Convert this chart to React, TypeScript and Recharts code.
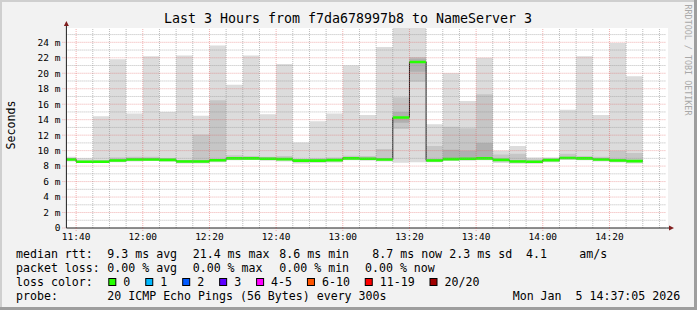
import React from 'react';
import { ComposedChart, Area, Line, XAxis, YAxis, ReferenceLine } from 'recharts';

// ---- data (milliseconds shown as "m" = milli-seconds) ----
const TITLE = 'Last 3 Hours from f7da678997b8 to NameServer 3';
const Y_LABEL = 'Seconds';
const WATERMARK = 'RRDTOOL / TOBI OETIKER';

const START_TIME = '11:37:05';
const END_TIME = '14:37:05';

// interval start times (5-minute steps); last entry closes the final step
const TIME_LABELS = [
  '11:35', '11:40', '11:45', '11:50', '11:55', '12:00', '12:05', '12:10', '12:15', '12:20',
  '12:25', '12:30', '12:35', '12:40', '12:45', '12:50', '12:55', '13:00', '13:05', '13:10',
  '13:15', '13:20', '13:25', '13:30', '13:35', '13:40', '13:45', '13:50', '13:55', '14:00',
  '14:05', '14:10', '14:15', '14:20', '14:25', '14:30',
];

const MEDIAN = [8.86, 8.56, 8.56, 8.73, 8.86, 8.86, 8.8, 8.6, 8.6, 8.75, 9.0, 9.0, 8.95, 8.9, 8.7, 8.7, 8.77, 9.0, 8.95, 8.86, 14.28, 21.46, 8.73, 8.9, 8.95, 9.0, 8.8, 8.6, 8.56, 8.77, 9.05, 9.0, 8.86, 8.73, 8.65];
const SMOKE_MIN = [8.6, 8.4, 8.4, 8.5, 8.6, 8.65, 8.55, 8.35, 8.35, 8.5, 8.75, 8.8, 8.7, 8.6, 8.35, 8.4, 8.45, 8.75, 8.7, 8.6, 8.43, 8.5, 8.5, 8.65, 8.7, 8.75, 8.4, 8.3, 8.3, 8.5, 8.8, 8.75, 8.6, 8.45, 8.35];
const SMOKE_MAX = [9.2, 9.0, 14.45, 21.8, 14.8, 22.2, 15.0, 22.3, 14.5, 23.6, 18.5, 22.3, 14.7, 21.2, 11.05, 13.8, 14.8, 21.0, 14.6, 23.4, 27.5, 28.0, 13.4, 20.0, 16.4, 22.0, 10.0, 10.6, 9.1, 9.1, 15.3, 22.2, 14.6, 23.9, 19.6];
const MID_LO = [8.75, 8.5, 8.5, 8.6, 8.7, 8.75, 8.65, 8.5, 8.45, 8.6, 8.9, 8.9, 8.85, 8.75, 8.5, 8.55, 8.6, 8.9, 8.85, 8.75, 12.8, 18.9, 8.6, 8.75, 8.8, 8.85, 8.6, 8.5, 8.4, 8.6, 8.9, 8.85, 8.75, 8.6, 8.5];
const MID_HI = [9.0, 8.7, 8.8, 9.1, 9.2, 9.2, 9.05, 8.8, 12.1, 16.5, 9.4, 9.3, 9.2, 9.3, 8.9, 9.0, 9.1, 9.35, 9.3, 10.2, 16.9, 22.1, 10.6, 13.1, 12.9, 17.3, 9.5, 9.6, 8.9, 9.0, 9.6, 9.3, 9.2, 10.0, 9.7];
const CORE_LO = [8.76, 8.46, 8.46, 8.63, 8.76, 8.76, 8.7, 8.5, 8.5, 8.65, 8.9, 8.9, 8.85, 8.8, 8.6, 8.6, 8.67, 8.9, 8.85, 8.76, 13.6, 20.2, 8.63, 8.8, 8.85, 8.9, 8.7, 8.5, 8.46, 8.67, 8.95, 8.9, 8.76, 8.63, 8.55];
const CORE_HI = [9.0, 8.7, 8.7, 8.88, 9.0, 9.0, 8.95, 8.75, 8.75, 8.9, 9.15, 9.15, 9.1, 9.05, 8.85, 8.85, 8.92, 9.15, 9.1, 9.0, 15.0, 21.9, 8.88, 10.1, 10.0, 11.0, 8.95, 8.75, 8.7, 8.92, 9.2, 9.15, 9.0, 8.88, 8.8];

const X_TICKS = ['11:40', '12:00', '12:20', '12:40', '13:00', '13:20', '13:40', '14:00', '14:20'];
const Y_TICKS = [0, 2, 4, 6, 8, 10, 12, 14, 16, 18, 20, 22, 24];
const Y_MAX = 25.85;

const RTT_STATS = ['9.3 ms avg', '21.4 ms max', '8.6 ms min', '8.7 ms now', '2.3 ms sd', '4.1', 'am/s'];
const LOSS_STATS = ['0.00 % avg', '0.00 % max', '0.00 % min', '0.00 % now'];
const LOSS_LABELS = ['0', '1', '2', '3', '4-5', '6-10', '11-19', '20/20'];
const LOSS_COLORS = ['#26ff00', '#00b8ff', '#0059ff', '#5e00ff', '#ff00ff', '#ff5500', '#ff0000', '#a10000'];
const PROBE_TEXT = '20 ICMP Echo Pings (56 Bytes) every 300s';
const DATE_TEXT = 'Mon Jan  5 14:37:05 2026';

// ---- helpers ----
const toMin = (s: string) => {
  const p = s.split(':').map(Number);
  return p[0] * 60 + p[1] + (p[2] || 0) / 60;
};
const fmtTime = (m: number) => {
  const h = Math.floor(m / 60);
  const mm = Math.round(m - h * 60);
  return `${h}:${mm < 10 ? '0' : ''}${mm}`;
};

const BAND_HALF = 0.17; // half thickness of the loss-colour median band

const data = TIME_LABELS.map((t, i) => {
  const j = Math.min(i, MEDIAN.length - 1);
  return {
    t: toMin(t),
    outer: [SMOKE_MIN[j], SMOKE_MAX[j]],
    mid: [MID_LO[j], MID_HI[j]],
    core: [CORE_LO[j], CORE_HI[j]],
    median: MEDIAN[j],
    band: [MEDIAN[j] - BAND_HALF, MEDIAN[j] + BAND_HALF],
  };
});

const X0 = toMin(START_TIME);
const X1 = toMin(END_TIME);
const majorX = X_TICKS.map(toMin);
const minorX: number[] = [];
for (let m = toMin('11:40'); m < X1; m += 5) if (!majorX.includes(m)) minorX.push(m);
const majorY = Y_TICKS.filter((v) => v > 0);
const minorY: number[] = [];
for (let v = 1; v < Y_MAX; v += 2) minorY.push(v);

const FONT = '"DejaVu Sans Mono", monospace';
const MGRID = 'rgba(222,79,79,0.45)';
const GRID = 'rgba(143,143,143,0.6)';

// layout
const PLOT_LEFT = 66.4;
const PLOT_TOP = 28;
const PLOT_W = 600;
const PLOT_H = 200;
const W = 697;
const H = 310;
const CHAR_W = 6.95;

export default function App() {
  const legendFont = 11.6;
  const rttX = [107.3, 192.7, 279.3, 372.3, 449.3, 526, 579.3];
  const lossX = [107.3, 192.7, 279.3, 365];
  const boxX: number[] = [];
  let bx = 108.3;
  LOSS_LABELS.forEach((l) => {
    boxX.push(bx);
    bx += 30 + CHAR_W * l.length;
  });

  return (
    <div style={{ position: 'absolute', left: 0, top: 0, width: W, height: H, background: '#f2f2f2', overflow: 'hidden' }}>
      <div style={{ position: 'absolute', left: PLOT_LEFT, top: PLOT_TOP, width: PLOT_W + 1.6, height: PLOT_H, background: '#ffffff' }} />
      <div style={{ position: 'absolute', left: 0, top: 0 }}>
        <ComposedChart
          width={W}
          height={H}
          data={data}
          margin={{ top: PLOT_TOP, right: W - PLOT_LEFT - PLOT_W, bottom: H - PLOT_TOP - PLOT_H - 30, left: PLOT_LEFT - 60 }}
        >
          <XAxis
            dataKey="t"
            type="number"
            domain={[X0, X1]}
            allowDataOverflow
            ticks={majorX}
            tickFormatter={fmtTime}
            height={30}
            tickSize={3}
            tickMargin={2.3}
            tick={{ fontSize: 9.5, fill: '#000', fontFamily: FONT }}
            axisLine={{ stroke: '#1f1f1f' }}
            tickLine={{ stroke: MGRID, strokeDasharray: '1 1' }}
          />
          <YAxis
            type="number"
            domain={[0, Y_MAX]}
            allowDataOverflow
            ticks={Y_TICKS}
            tickFormatter={(v: number) => (v === 0 ? '0' : `${v} m`)}
            width={60}
            tickSize={4}
            tickMargin={2}
            tick={{ fontSize: 9.5, fill: '#000', fontFamily: FONT }}
            axisLine={{ stroke: '#1f1f1f' }}
            tickLine={{ stroke: MGRID, strokeDasharray: '1 1' }}
          />
          <Area dataKey="outer" type="stepAfter" fill="#dcdcdc" fillOpacity={1} stroke="none" isAnimationActive={false} zIndex={100} />
          <Area dataKey="mid" type="stepAfter" fill="#c6c6c6" fillOpacity={1} stroke="none" isAnimationActive={false} zIndex={101} />
          <Area dataKey="core" type="stepAfter" fill="#b0b0b0" fillOpacity={1} stroke="none" isAnimationActive={false} zIndex={102} />
          <Line dataKey="median" type="stepAfter" stroke="#202020" strokeWidth={1} dot={false} activeDot={false} isAnimationActive={false} zIndex={103} />
          <Area dataKey="band" type="stepAfter" fill={LOSS_COLORS[0]} fillOpacity={1} stroke="none" isAnimationActive={false} zIndex={104} />
          {minorY.map((v) => (
            <ReferenceLine key={'my' + v} y={v} stroke={GRID} strokeDasharray="1 1" zIndex={105} />
          ))}
          {minorX.map((v) => (
            <ReferenceLine key={'mx' + v} x={v} stroke={GRID} strokeDasharray="1 1" zIndex={105} />
          ))}
          {majorY.map((v) => (
            <ReferenceLine key={'My' + v} y={v} stroke={MGRID} strokeDasharray="1 1" zIndex={106} />
          ))}
          {majorX.map((v) => (
            <ReferenceLine key={'Mx' + v} x={v} stroke={MGRID} strokeDasharray="1 1" zIndex={106} />
          ))}
        </ComposedChart>
      </div>
      <svg width={W} height={H} style={{ position: 'absolute', left: 0, top: 0, pointerEvents: 'none' }} fontFamily={FONT}>
        <rect x={0} y={0} width={W} height={2} fill="#cfcfcf" />
        <rect x={0} y={0} width={2} height={H} fill="#cfcfcf" />
        <rect x={W - 3} y={0} width={3} height={H} fill="#9e9e9e" />
        <rect x={0} y={H - 3} width={W} height={3} fill="#9e9e9e" />
        <line x1={PLOT_LEFT} y1={PLOT_TOP} x2={PLOT_LEFT} y2={25} stroke="#1f1f1f" />
        <polygon points={`${PLOT_LEFT - 2.5},26 ${PLOT_LEFT + 2.5},26 ${PLOT_LEFT},21`} fill="#801f1f" />
        <line x1={PLOT_LEFT + PLOT_W} y1={PLOT_TOP + PLOT_H} x2={669} y2={PLOT_TOP + PLOT_H} stroke="#1f1f1f" />
        <polygon points={`669,${PLOT_TOP + PLOT_H - 2.5} 669,${PLOT_TOP + PLOT_H + 2.5} 674,${PLOT_TOP + PLOT_H}`} fill="#801f1f" />
        <text x={348} y={23} textAnchor="middle" fontSize={13.3} fill="#000">{TITLE}</text>
        <text transform="translate(11,125) rotate(-90)" textAnchor="middle" dominantBaseline="central" fontSize={11.6} fill="#000">{Y_LABEL}</text>
        <text transform="translate(688,60) rotate(90)" textAnchor="middle" dominantBaseline="central" fontSize={8.4} fill="#a8a8a8">{WATERMARK}</text>

        <g fontSize={legendFont} fill="#000" style={{ whiteSpace: 'pre' }}>
          <text x={16} y={258}>median rtt:</text>
          {RTT_STATS.map((s, i) => (
            <text key={'r' + i} x={rttX[i]} y={258} xmlSpace="preserve">{s}</text>
          ))}
          <text x={16} y={272}>packet loss:</text>
          {LOSS_STATS.map((s, i) => (
            <text key={'l' + i} x={lossX[i]} y={272} xmlSpace="preserve">{s}</text>
          ))}
          <text x={16} y={286}>loss color:</text>
          {LOSS_LABELS.map((l, i) => (
            <g key={'c' + i}>
              <rect x={boxX[i] + 0.5} y={278.5} width={7} height={7} fill={LOSS_COLORS[i]} stroke="#000" strokeWidth={1} />
              <text x={boxX[i] + 15} y={286}>{l}</text>
            </g>
          ))}
          <text x={16} y={300}>probe:</text>
          <text x={107.3} y={300} xmlSpace="preserve">{PROBE_TEXT}</text>
          <text x={512.7} y={300} xmlSpace="preserve">{DATE_TEXT}</text>
        </g>
      </svg>
    </div>
  );
}
